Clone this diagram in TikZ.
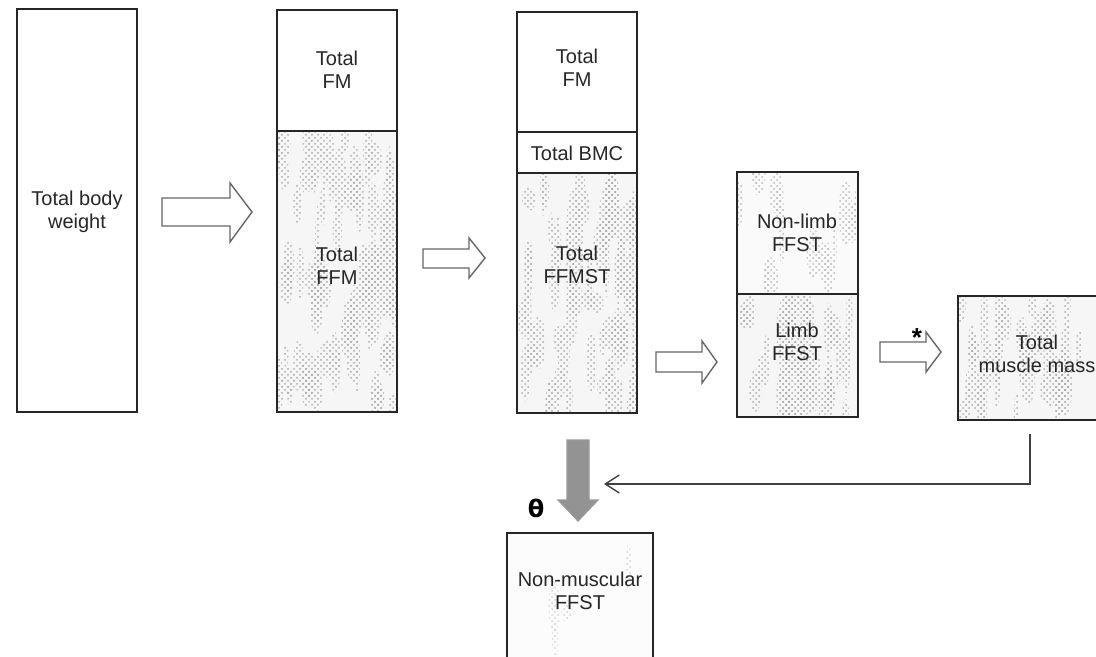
\documentclass[tikz,border=0pt]{standalone}
\usepackage{fontspec}
\setmainfont{Liberation Sans}
\newfontfamily\djv{DejaVu Sans}
\usetikzlibrary{patterns,fit,arrows.meta,calc}
\newcommand\mystreaks[6]{%
  \begin{scope}
    \clip (#1,#2) rectangle (#3,#4);
    \foreach \k in {1,...,#5}{%
      \pgfmathsetmacro\sx{#1+rnd*(#3-#1)}%
      \pgfmathsetmacro\sy{#2+rnd*(#4-#2)}%
      \pgfmathsetmacro\rx{2.5+rnd*5}%
      \pgfmathsetmacro\ry{10+rnd*26}%
      \fill[pattern=crosshatch dots, pattern color=#6] (\sx,\sy) ellipse [x radius=\rx, y radius=\ry];
    }
  \end{scope}}
\begin{document}
\begin{tikzpicture}[x=0.5pt,y=-0.5pt,
  box/.style={draw=black!85, line width=0.8pt, inner sep=0pt},
  lbl/.style={align=center, inner sep=0pt, font=\fontsize{10}{11.5}\selectfont, text=black!85},
  barrow/.style={draw=black!60, line width=0.7pt, fill=white, line join=miter},
  garrow/.style={draw=gray!80, line width=0.6pt, fill=gray!85},
  conn/.style={draw=black!75, line width=0.8pt, -{Straight Barb[length=7pt,width=9pt,line width=0.7pt]}}]
\useasboundingbox (0,0) rectangle (1096,657);
\pgfmathsetseed{4711}
% textured backgrounds
\fill[gray!7] (277,131) rectangle (397,412);
\mystreaks{277}{131}{397}{412}{80}{gray!65}
\fill[gray!7] (517,173) rectangle (637,413);
\mystreaks{517}{173}{637}{413}{70}{gray!65}
\fill[gray!4] (737,172) rectangle (858,294);
\mystreaks{737}{172}{858}{294}{16}{gray!55}
\fill[gray!7] (737,294) rectangle (858,417);
\mystreaks{737}{294}{858}{417}{38}{gray!65}
\fill[gray!7] (958,296) rectangle (1102,420);
\mystreaks{958}{296}{1102}{420}{40}{gray!65}
\fill[gray!2] (507,533) rectangle (653,690);
\mystreaks{507}{533}{653}{690}{4}{gray!35}
% column 1
\node[box, fit={(17,9) (137,412)}] (b1) {};
\node[lbl] (t1) at (77,212) {Total body\\weight};
% column 2
\node[box, fit={(277,10) (397,131)}] (b2a) {};
\node[box, fit={(277,131) (397,412)}] (b2b) {};
\node[lbl] (t2a) at (337,70) {Total\\FM};
\node[lbl] (t2b) at (337,266) {Total\\FFM};
% column 3
\node[box, fit={(517,12) (637,132)}] (b3a) {};
\node[box, fit={(517,132) (637,173)}] (b3b) {};
\node[box, fit={(517,173) (637,413)}] (b3c) {};
\node[lbl] (t3a) at (577,68) {Total\\FM};
\node[lbl] (t3b) at (577,153) {Total BMC};
\node[lbl] (t3c) at (577,265) {Total\\FFMST};
% column 4
\node[box, fit={(737,172) (858,294)}] (b4a) {};
\node[box, fit={(737,294) (858,417)}] (b4b) {};
\node[lbl] (t4a) at (797,233) {Non-limb\\FFST};
\node[lbl] (t4b) at (797,342) {Limb\\FFST};
% column 5
\node[box, fit={(958,296) (1102,420)}] (b5) {};
\node[lbl] (t5) at (1037,354) {Total\\muscle mass};
% non-muscular
\node[box, fit={(507,533) (653,690)}] (b6) {};
\node[lbl] (t6) at (580,591) {Non-muscular\\FFST};
% block arrows
\draw[barrow] (162,198) -- (230,198) -- (230,183) -- (252,212) -- (230,242) -- (230,226) -- (162,226) -- cycle;
\draw[barrow] (423,249) -- (469,249) -- (469,238) -- (485,258) -- (469,278) -- (469,268) -- (423,268) -- cycle;
\draw[barrow] (656,352) -- (702,352) -- (702,341) -- (717,362) -- (702,383) -- (702,372) -- (656,372) -- cycle;
\draw[barrow] (880,342) -- (926,342) -- (926,332) -- (941,352) -- (926,372) -- (926,362) -- (880,362) -- cycle;
\node[inner sep=0pt, font=\fontsize{13}{13}\bfseries] (star) at (917,338) {*};
% grey down arrow
\draw[garrow] (567,440) -- (589,440) -- (589,500) -- (598,500) -- (578,521) -- (558,500) -- (567,500) -- cycle;
\coordinate (ga) at (604,484);
\node[inner sep=0pt, font=\fontsize{12}{12}\djv\bfseries] (theta) at (536,508) {θ};
% connector
\draw[conn] ($(b5.south)+(0,13)$) |- (ga);
\end{tikzpicture}
\end{document}
